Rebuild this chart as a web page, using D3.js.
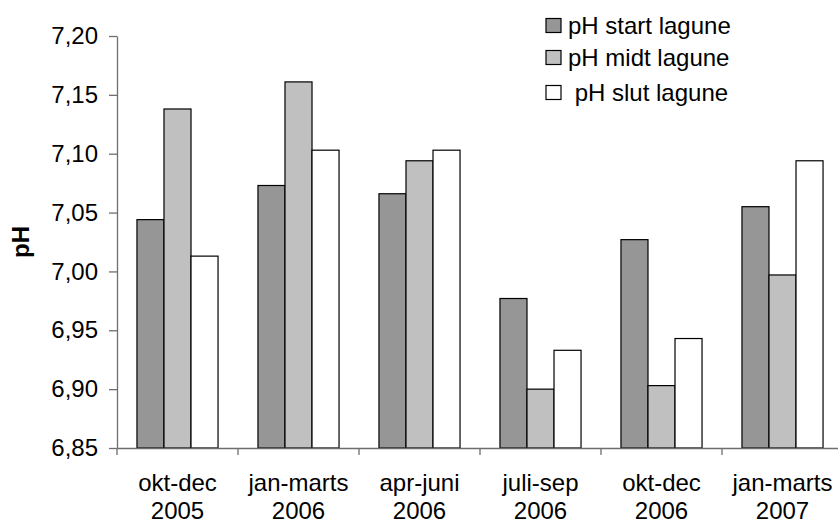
<!DOCTYPE html>
<html>
<head>
<meta charset="utf-8">
<script src="https://cdn.jsdelivr.net/npm/d3@7"></script>
<style>
  html, body { margin: 0; padding: 0; background: #fff; }
  svg text { font-family: "Liberation Sans", Arial, sans-serif; fill: #000; }
</style>
</head>
<body>
<svg id="chart" width="838" height="522"></svg>
<script>
// ---- data ----
const categories = ["okt-dec 2005", "jan-marts 2006", "apr-juni 2006", "juli-sep 2006", "okt-dec 2006", "jan-marts 2007"];
const categoryLine1 = ["okt-dec", "jan-marts", "apr-juni", "juli-sep", "okt-dec", "jan-marts"];
const categoryLine2 = ["2005", "2006", "2006", "2006", "2006", "2007"];
const seriesNames = ["pH start lagune", "pH midt lagune", " pH slut lagune"];
const phStart = [7.044, 7.073, 7.066, 6.977, 7.027, 7.055];
const phMidt  = [7.138, 7.161, 7.094, 6.900, 6.903, 6.997];
const phSlut  = [7.013, 7.103, 7.103, 6.933, 6.943, 7.094];
const yTicks = [6.85, 6.90, 6.95, 7.00, 7.05, 7.10, 7.15, 7.20];
const seriesColors = ["#969696", "#c0c0c0", "#ffffff"];

// ---- layout ----
const svg = d3.select("#chart");
const plot = { left: 117, right: 843, top: 36, bottom: 448 };
const fontSize = 24;

const x = d3.scaleBand().domain(categories).range([plot.left, plot.right]).paddingInner(0).paddingOuter(0);
const bw = x.bandwidth();
const groupPad = bw * 0.165;
const xs = d3.scaleBand().domain(d3.range(3)).range([groupPad, bw - groupPad]).padding(0);
const y = d3.scaleLinear().domain([6.85, 7.20]).range([plot.bottom, plot.top]);

const table = categories.map((c, i) => ({ cat: c, values: [phStart[i], phMidt[i], phSlut[i]] }));

// bars
const groups = svg.append("g").selectAll("g").data(table).join("g")
  .attr("transform", d => `translate(${x(d.cat)},0)`);
groups.selectAll("rect").data(d => d.values.map((v, k) => ({ v, k }))).join("rect")
  .attr("x", d => xs(d.k))
  .attr("width", xs.bandwidth())
  .attr("y", d => y(d.v))
  .attr("height", d => y(6.85) - y(d.v))
  .attr("fill", d => seriesColors[d.k])
  .attr("stroke", "#000")
  .attr("stroke-width", 1.2);

// y axis
const fmt = v => d3.format(".2f")(v).replace(".", ",");
const yAxis = svg.append("g").attr("transform", `translate(${plot.left},0)`)
  .call(d3.axisLeft(y).tickValues(yTicks).tickFormat(fmt).tickSize(8).tickSizeOuter(0).tickPadding(11));
yAxis.select(".domain").attr("stroke", "#6e6e6e").attr("stroke-width", 1.3);
yAxis.selectAll(".tick line").attr("stroke", "#6e6e6e").attr("stroke-width", 1.3);
yAxis.selectAll(".tick text").attr("font-size", fontSize).attr("font-family", "Liberation Sans, Arial, sans-serif").attr("fill", "#000");

// x axis
const xAxis = svg.append("g").attr("transform", `translate(0,${plot.bottom})`)
  .call(d3.axisBottom(x).tickSize(0).tickSizeOuter(0).tickFormat(""));
xAxis.select(".domain").attr("stroke", "#6e6e6e").attr("stroke-width", 1.3);
xAxis.selectAll(".tick").remove();
// band boundary ticks
const boundaries = categories.map(c => x(c)).concat([x(categories[categories.length - 1]) + bw]);
xAxis.selectAll("line.btick").data(boundaries).join("line")
  .attr("class", "btick")
  .attr("x1", d => d).attr("x2", d => d)
  .attr("y1", 0).attr("y2", 7)
  .attr("stroke", "#6e6e6e").attr("stroke-width", 1.3);
// category labels
const labels = svg.append("g").selectAll("text").data(categories).join("text")
  .attr("x", c => x(c) + bw / 2)
  .attr("text-anchor", "middle")
  .attr("font-size", fontSize);
labels.append("tspan").attr("x", c => x(c) + bw / 2).attr("y", 490.5).text((c, i) => categoryLine1[i]);
labels.append("tspan").attr("x", c => x(c) + bw / 2).attr("y", 518.5).text((c, i) => categoryLine2[i]);

// y title
svg.append("text")
  .attr("transform", `translate(29,${(plot.top + plot.bottom) / 2}) rotate(-90)`)
  .attr("text-anchor", "middle")
  .attr("font-size", 24)
  .attr("font-weight", "bold")
  .text("pH");

// legend
const legend = svg.append("g").attr("transform", "translate(546,0)");
const legendRows = [25.5, 57.5, 92.5];
seriesNames.forEach((name, k) => {
  legend.append("rect")
    .attr("x", 0).attr("y", legendRows[k] - 7)
    .attr("width", 15).attr("height", 14)
    .attr("fill", seriesColors[k]).attr("stroke", "#000").attr("stroke-width", 1.2);
  legend.append("text")
    .attr("x", 22).attr("y", legendRows[k] + 8.5)
    .attr("font-size", fontSize)
    .attr("xml:space", "preserve")
    .style("white-space", "pre")
    .text(name);
});
</script>
</body>
</html>
